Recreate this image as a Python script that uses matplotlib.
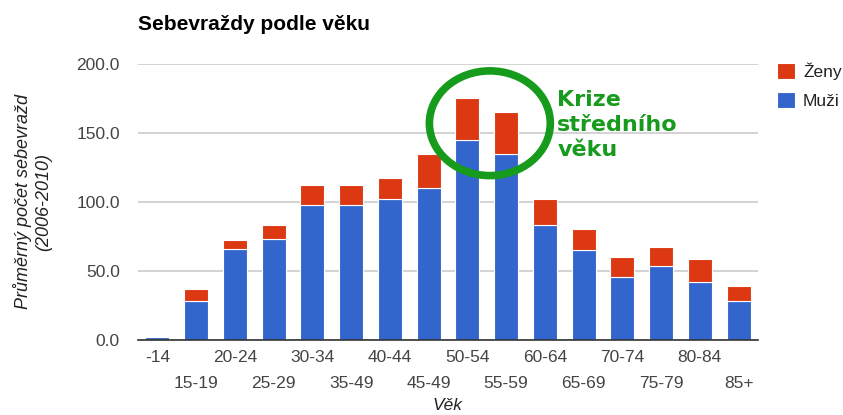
import matplotlib.pyplot as plt
import numpy as np
from matplotlib.patches import Ellipse

# data
vek = ['-14', '15-19', '20-24', '25-29', '30-34', '35-49', '40-44', '45-49',
       '50-54', '55-59', '60-64', '65-69', '70-74', '75-79', '80-84', '85+']
muzi = [1.5, 28, 66, 73, 98, 98, 102, 110, 145, 135, 83, 65, 45.5, 53.5, 41.5, 28]
zeny = [1.0, 9, 6, 10, 14, 14, 15, 25, 30, 30, 19, 15, 14.5, 14, 17, 11]

modra = '#3366cc'
cervena = '#dc3912'
zelena = '#169b1c'

plt.rcParams['font.family'] = ['Liberation Sans', 'DejaVu Sans']

fig = plt.figure(figsize=(8.43, 4.15), dpi=100)
ax = fig.add_axes([138 / 843, 1 - 339.5 / 415, 620 / 843, (339.5 - 64) / 415])

x = np.arange(len(vek))
ax.bar(x, muzi, width=0.62, color=modra, edgecolor='white', linewidth=0.8, label='Muži', zorder=3)
ax.bar(x, zeny, width=0.62, bottom=muzi, color=cervena, edgecolor='white', linewidth=0.8,
       label='Ženy', zorder=3)

ax.set_xlim(-0.5, len(vek) - 0.5)
ax.set_ylim(0, 200)
ax.set_yticks([0, 50, 100, 150, 200])
ax.set_yticklabels([f'{v:.1f}' for v in [0, 50, 100, 150, 200]])
ax.grid(axis='y', color='#cccccc', linewidth=1.2, zorder=0)
for s in ['top', 'right', 'left']:
    ax.spines[s].set_visible(False)
ax.spines['bottom'].set_color('#333333')
ax.spines['bottom'].set_linewidth(1.2)
ax.spines['bottom'].set_zorder(4)
ax.tick_params(axis='both', length=0, labelsize=12.5, labelcolor='#444444')
ax.tick_params(axis='y', pad=13)

ax.set_xticks(x)
ax.set_xticklabels(vek)
for i, t in enumerate(ax.xaxis.get_major_ticks()):
    t.set_pad(7.5 if i % 2 == 0 else 26)

fig.text(448 / 843, 1 - 405 / 415, 'Věk', fontsize=12.5, style='italic', color='#222222',
         ha='center', va='center')
fig.text(33 / 843, 1 - 201.5 / 415, 'Průměrný počet sebevražd\n(2006-2010)', fontsize=13,
         style='italic', color='#222222', rotation=90, ha='center', va='center',
         multialignment='center', linespacing=1.25)

fig.text(138 / 843, 1 - 24 / 415, 'Sebevraždy podle věku', fontsize=15, fontweight='bold',
         va='center', ha='left', color='black')

# legenda
h, l = ax.get_legend_handles_labels()
leg = fig.legend(h[::-1], l[::-1], loc='upper left', bbox_to_anchor=(777 / 843, 1 - 62 / 415),
                 frameon=False, fontsize=12.5, handlelength=1.05, handleheight=1.05,
                 handletextpad=0.45, labelspacing=0.7, labelcolor='#222222',
                 borderpad=0, borderaxespad=0)

# krize stredniho veku
el = Ellipse((8.58, 157), width=3.12, height=76, fill=False, edgecolor=zelena,
             linewidth=5.5, zorder=5, clip_on=False)
ax.add_patch(el)
ax.text(10.32, 181, 'Krize\nstředního\nvěku', color=zelena, fontsize=16, fontweight='bold',
        family='DejaVu Sans', va='top', ha='left', linespacing=1.3, zorder=6)

fig.savefig('out.png', dpi=100)
